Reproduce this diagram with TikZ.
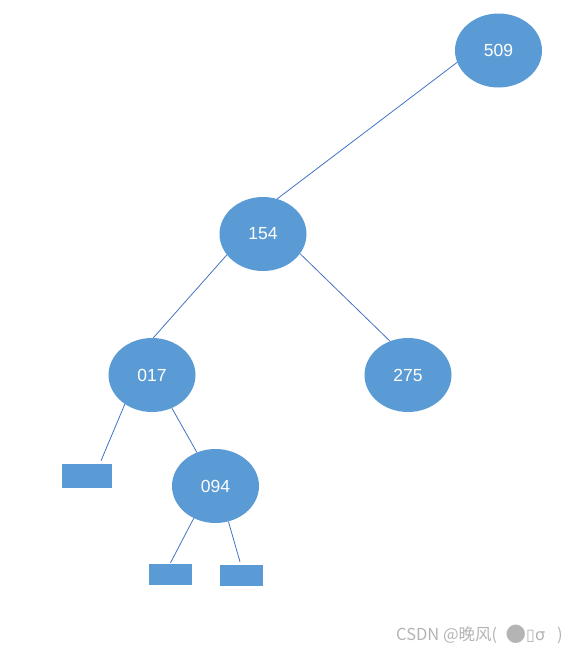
\documentclass[tikz,border=0pt]{standalone}
\usepackage{fontspec}
\setmainfont{Liberation Sans}
\newfontfamily\cjkfont{Noto Sans CJK SC}
\newfontfamily\symfont{DejaVu Sans}
\usetikzlibrary{shapes.geometric}
\definecolor{keyblue}{HTML}{5B9BD5}
\definecolor{edgeblue}{HTML}{4472C4}
\definecolor{markgray}{HTML}{B4B4B4}

\begin{document}
\begin{tikzpicture}[
  x=1pt,y=-1pt,
  key/.style={ellipse, fill=keyblue, text=white, minimum width=87pt, minimum height=74pt, inner sep=0pt, font=\fontsize{17.5}{18}\selectfont},
  leaf/.style={fill=keyblue, inner sep=0pt},
  edge/.style={edgeblue, line width=0.8pt}
]
\useasboundingbox (0,0) rectangle (578,654);

% keys of the tree
\node[key] (k509) at (498.5,50.5) {509};
\node[key] (k154) at (263,234) {154};
\node[key] (k017) at (152,375) {017};
\node[key] (k275) at (408,375) {275};
\node[key] (k094) at (215.5,486) {094};

% empty leaves
\node[leaf, minimum width=50pt, minimum height=24pt] (leafa) at (87,476) {};
\node[leaf, minimum width=43pt, minimum height=21pt] (leafb) at (170.5,574.5) {};
\node[leaf, minimum width=43pt, minimum height=21pt] (leafc) at (241.5,575.5) {};

\draw[edge] (k509.196) -- (k154.68);
\draw[edge] (k154.210) -- (k017.88);
\draw[edge] (k154.332) -- (k275.118);
\draw[edge] (k017.227) -- ([xshift=14pt,yshift=3pt]leafa.north);
\draw[edge] (k017.301) -- (k094.119);
\draw[edge] (k094.236) -- ([yshift=1pt]leafb.north);
\draw[edge] (k094.290) -- ([xshift=-1.5pt,yshift=3pt]leafc.north);

\node[text=markgray, font=\cjkfont\fontsize{16.5}{18}\selectfont, inner sep=0pt, anchor=west] (mark) at (396,634)
  {CSDN @晚风(\hspace{8pt}{\symfont\fontsize{24}{18}\selectfont ●}{\symfont\fontsize{16}{18}\selectfont ▯σ}\hspace{12pt})};
\end{tikzpicture}
\end{document}
